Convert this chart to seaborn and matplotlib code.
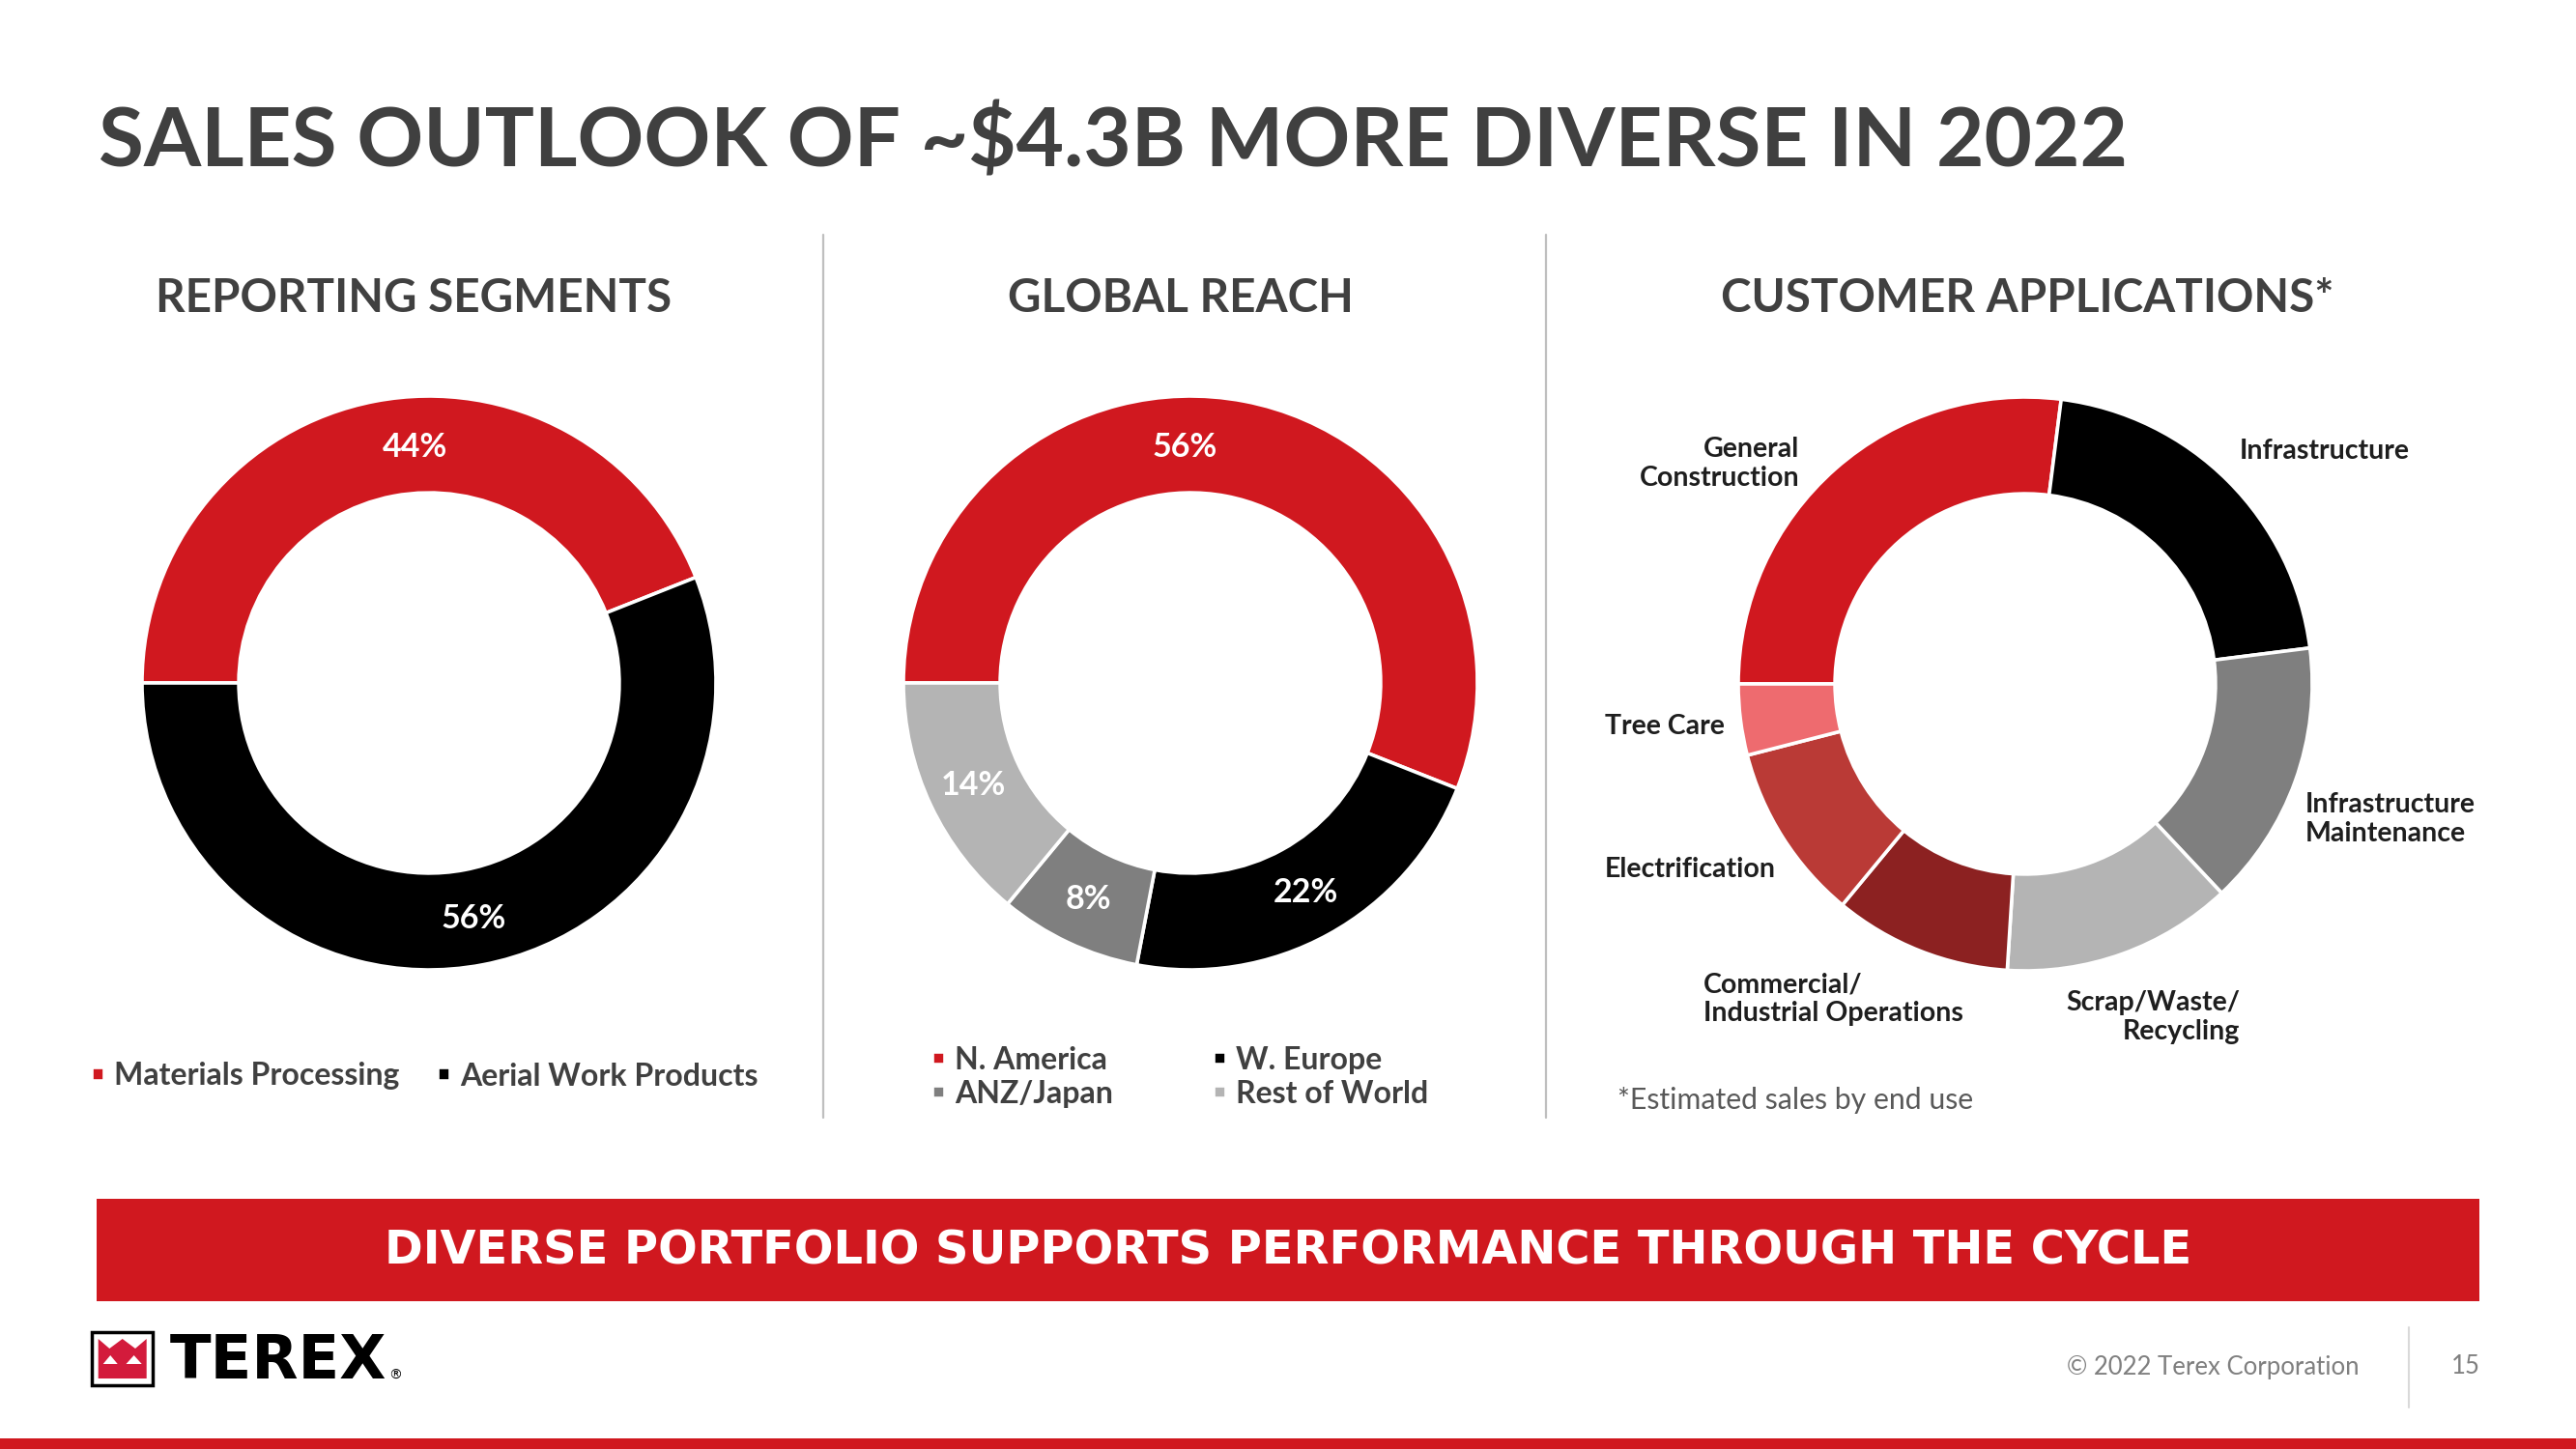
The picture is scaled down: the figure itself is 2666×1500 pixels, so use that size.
import matplotlib
matplotlib.use("Agg")
import matplotlib.pyplot as plt
import seaborn as sns
from matplotlib.patches import Rectangle, Polygon

# ---------------- data ----------------
segment_labels = ["Materials Processing", "Aerial Work Products"]
segment_values = [44, 56]

region_labels = ["N. America", "W. Europe", "ANZ/Japan", "Rest of World"]
region_values = [56, 22, 8, 14]

app_labels = ["General\nConstruction", "Infrastructure", "Infrastructure\nMaintenance",
              "Scrap/Waste/\nRecycling", "Commercial/\nIndustrial Operations",
              "Electrification", "Tree Care"]
app_values = [27, 21, 15, 13, 10, 10, 4]

title = "SALES OUTLOOK OF ~$4.3B MORE DIVERSE IN 2022"
headings = ["REPORTING SEGMENTS", "GLOBAL REACH", "CUSTOMER APPLICATIONS*"]
banner = "DIVERSE PORTFOLIO SUPPORTS PERFORMANCE THROUGH THE CYCLE"
footnote = "*Estimated sales by end use"
copyright_text = "\u00a9 2022 Terex Corporation"
page_no = "15"

# ---------------- style ----------------
RED = "#D0181F"
BLACK = "#000000"
GRAY = "#7F7F7F"
LGRAY = "#B4B4B4"
seg_colors = [RED, BLACK]
reg_colors = [RED, BLACK, GRAY, LGRAY]
app_colors = [RED, BLACK, GRAY, LGRAY, "#8C2121", "#BA3A36", "#EE6B6F"]
TXT = "#404040"

sns.set_theme(style="white")
plt.rcParams["font.family"] = ["Lato", "DejaVu Sans"]

W, H = 2666, 1500
fig = plt.figure(figsize=(W / 100, H / 100), dpi=100)
fig.patch.set_facecolor("white")

bg = fig.add_axes([0, 0, 1, 1])
bg.set_xlim(0, W)
bg.set_ylim(H, 0)
bg.axis("off")


def fx(px):
    return px / W


def fy(py):
    return 1 - py / H


LIM = 1.03


def donut_ax(cx, cy, r):
    rr = r * LIM
    return fig.add_axes([fx(cx - rr), fy(cy + rr), 2 * rr / W, 2 * rr / H])


def draw_donut(ax, values, colors, pct=True):
    kw = dict(colors=colors, startangle=180, counterclock=False, radius=1,
              wedgeprops=dict(width=0.337, edgecolor="white", linewidth=2.6))
    if pct:
        wedges, _, autotexts = ax.pie(values, autopct=lambda p: f"{p:.0f}%",
                                      pctdistance=0.835,
                                      textprops=dict(color="white", fontsize=24.5,
                                                     fontweight="bold"), **kw)
    else:
        wedges, _ = ax.pie(values, **kw)
        autotexts = []
    ax.set_xlim(-LIM, LIM)
    ax.set_ylim(-LIM, LIM)
    ax.set_aspect("equal")
    ax.axis("off")
    return wedges, autotexts


R = 297
ax1 = donut_ax(444, 707, R)
w1, t1 = draw_donut(ax1, segment_values, seg_colors)
t1[0].set_position((-0.05, 0.82))

ax2 = donut_ax(1232, 707, R)
w2, t2 = draw_donut(ax2, region_values, reg_colors)
t2[0].set_position((-0.02, 0.82))

ax3 = donut_ax(2096, 708, R)
w3, _ = draw_donut(ax3, app_values, app_colors, pct=False)

# ---------------- texts ----------------
bg.text(102, 173, title, fontsize=61.5, fontweight="bold", color=TXT, va="baseline", ha="left")
for x, h in zip([428, 1222, 2098], headings):
    bg.text(x, 323, h, fontsize=34.3, fontweight="bold", color=TXT, va="baseline", ha="center")

# separators
for x in [852, 1600]:
    bg.plot([x, x], [243, 1157], color="#BFBFBF", lw=1.6)

# customer application labels
LBL = "#1E1E1E"
app_pos = {
    "General\nConstruction": (1862, 480, "right"),
    "Infrastructure": (2318, 467, "left"),
    "Infrastructure\nMaintenance": (2386, 848, "left"),
    "Scrap/Waste/\nRecycling": (2318, 1053, "right"),
    "Commercial/\nIndustrial Operations": (1763, 1034, "left"),
    "Electrification": (1838, 900, "right"),
    "Tree Care": (1785, 752, "right"),
}
for lab in app_labels:
    x, y, ha = app_pos[lab]
    bg.text(x, y, lab, fontsize=20.5, fontweight="bold", color=LBL, ha=ha, va="center",
            linespacing=1.15)

bg.text(1674, 1139, footnote, fontsize=21.8, color="#595959", ha="left", va="center")

# ---------------- legends ----------------
LFS = 23
fig.legend(handles=w1, labels=segment_labels, loc="center left",
           bbox_to_anchor=(fx(95), fy(1114)), ncol=2, frameon=False,
           handlelength=0.41, handleheight=0.27, handletextpad=0.32, columnspacing=1.22,
           borderaxespad=0, borderpad=0, labelcolor=TXT,
           prop=dict(weight="bold", size=LFS))

order = [0, 2, 1, 3]
fig.legend(handles=[w2[i] for i in order], labels=[region_labels[i] for i in order],
           loc="center left", bbox_to_anchor=(fx(965), fy(1115)), ncol=2, frameon=False,
           handlelength=0.41, handleheight=0.27, handletextpad=0.32, columnspacing=3.25,
           labelspacing=0.2, borderaxespad=0, borderpad=0, labelcolor=TXT,
           prop=dict(weight="bold", size=LFS))

# ---------------- banner ----------------
bg.add_patch(Rectangle((100, 1241), 2466, 106, color=RED, lw=0))
bg.text(1333, 1295, banner, fontsize=34.5, fontweight="bold", color="white",
        ha="center", va="center", family=["DejaVu Sans"])

# ---------------- footer ----------------
bg.add_patch(Rectangle((0, 1489), W, 11, color=RED, lw=0))
bg.plot([2493, 2493], [1374, 1457], color="#D9D9D9", lw=1.5)
bg.text(2442, 1415, copyright_text, fontsize=18.5, color="#7F7F7F", ha="right", va="center")
bg.text(2552, 1415, page_no, fontsize=18.5, color="#7F7F7F", ha="center", va="center")

# logo
LOGO_RED = "#D31B3C"
bg.add_patch(Rectangle((95, 1379), 63, 55, facecolor="white", edgecolor="black", lw=2.5))
bg.add_patch(Polygon([(101.7, 1386), (113.3, 1396), (126.7, 1386), (140, 1396),
                      (151.7, 1386), (151.7, 1427), (101.7, 1427)],
                     closed=True, facecolor=LOGO_RED, edgecolor="none"))
for a, b, c in [((106.7, 1412), (121.7, 1412), (114.2, 1403)),
                ((130.5, 1412), (146.7, 1412), (138.6, 1403))]:
    bg.add_patch(Polygon([a, b, c], closed=True, facecolor="white", edgecolor="none"))
terex = bg.text(176, 1427, "TEREX", fontsize=45, fontweight="heavy", color="black",
                ha="left", va="baseline", family=["DejaVu Sans"])
fig.canvas.draw()
bb = terex.get_window_extent()
x_end = bg.transData.inverted().transform((bb.x1, bb.y0))[0]
bg.text(x_end + 2, 1428, "\u00ae", fontsize=10, color="black", ha="left", va="baseline",
        family=["DejaVu Sans"])

fig.savefig("out.png", dpi=100, facecolor="white")
